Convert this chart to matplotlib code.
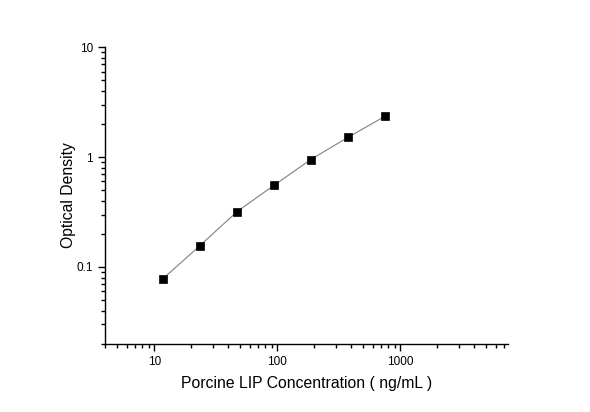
import numpy as np
import matplotlib.pyplot as plt
from matplotlib.ticker import LogLocator, FixedLocator, NullFormatter, FixedFormatter

# standard curve data
concentration = [11.72, 23.44, 46.88, 93.75, 187.5, 375, 750]
optical_density = [0.078, 0.156, 0.318, 0.552, 0.951, 1.51, 2.35]

x_major = [10, 100, 1000]
x_major_labels = ["10", "100", "1000"]
y_major = [0.1, 1, 10]
y_major_labels = ["0.1", "1", "10"]

plt.rcParams["font.family"] = ["Liberation Sans", "DejaVu Sans"]

fig = plt.figure(figsize=(5.9, 4.12), dpi=100)
fig.patch.set_facecolor("white")
ax = fig.add_axes([0.1788, 0.1658, 0.8605 - 0.1788, 0.8852 - 0.1658])

ax.plot(concentration, optical_density, color="#808080", linewidth=0.8,
        marker="s", markersize=5.2, markerfacecolor="black",
        markeredgecolor="black", markeredgewidth=0.5, zorder=3)

ax.set_xscale("log")
ax.set_yscale("log")
ax.set_xlim(4, 7500)
ax.set_ylim(0.02, 10)

ax.xaxis.set_major_locator(FixedLocator(x_major))
ax.xaxis.set_major_formatter(FixedFormatter(x_major_labels))
ax.xaxis.set_minor_locator(LogLocator(base=10, subs=np.arange(2, 10)))
ax.xaxis.set_minor_formatter(NullFormatter())
ax.yaxis.set_major_locator(FixedLocator(y_major))
ax.yaxis.set_major_formatter(FixedFormatter(y_major_labels))
ax.yaxis.set_minor_locator(LogLocator(base=10, subs=np.arange(2, 10)))
ax.yaxis.set_minor_formatter(NullFormatter())

for side in ["top", "right"]:
    ax.spines[side].set_visible(False)
for side in ["left", "bottom"]:
    ax.spines[side].set_linewidth(1.0)

ax.tick_params(which="major", direction="out", length=5, width=1,
               labelsize=8.5, pad=4)
ax.tick_params(which="minor", direction="out", length=3, width=1)

ax.set_xlabel("Porcine LIP Concentration ( ng/mL )", fontsize=11.3)
ax.set_ylabel("Optical Density", fontsize=11.3)
ax.xaxis.set_label_coords(0.5, -0.109)
ax.yaxis.set_label_coords(-0.073, 0.5)

plt.savefig("out.png", dpi=100)
plt.close(fig)
